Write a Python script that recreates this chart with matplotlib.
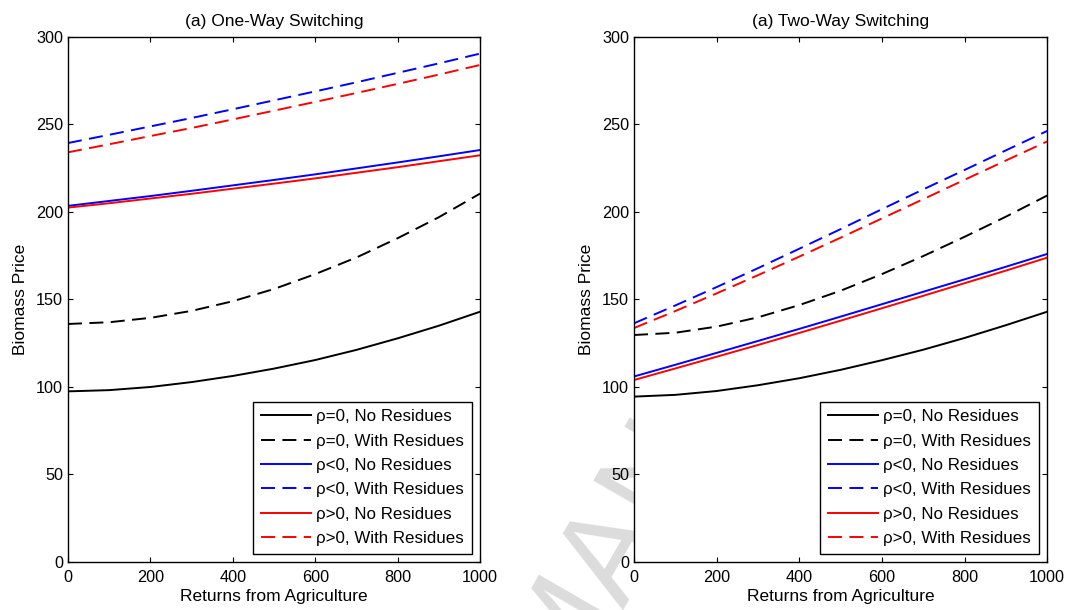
import matplotlib
matplotlib.use('Agg')
import matplotlib.pyplot as plt
from matplotlib.transforms import Bbox, TransformedBbox

plt.rcParams['font.family'] = ['Liberation Sans', 'DejaVu Sans']

# Returns from agriculture (x axis)
returns = [0, 100, 200, 300, 400, 500, 600, 700, 800, 900, 1000]

# One-way switching
ow_zero_nores = [97.5, 98.2, 100.0, 102.8, 106.3, 110.5, 115.4, 121.2, 127.8, 135.0, 143.0]
ow_zero_res = [136.0, 137.0, 139.5, 143.5, 149.0, 156.0, 164.5, 174.0, 185.0, 197.0, 210.5]
ow_neg_nores = [203.5, 206.3, 209.1, 212.1, 215.2, 218.3, 221.5, 224.9, 228.3, 231.8, 235.4]
ow_neg_res = [239.4, 244.1, 248.9, 253.7, 258.7, 263.8, 268.9, 274.1, 279.5, 284.9, 290.5]
ow_pos_nores = [202.5, 205.0, 207.7, 210.4, 213.3, 216.2, 219.2, 222.4, 225.6, 229.0, 232.4]
ow_pos_res = [234.1, 238.7, 243.4, 248.0, 252.9, 257.9, 262.9, 268.0, 273.2, 278.5, 284.0]

# Two-way switching
tw_zero_nores = [94.5, 95.5, 97.7, 101.0, 105.0, 109.8, 115.3, 121.3, 128.0, 135.3, 143.0]
tw_zero_res = [129.7, 131.0, 134.5, 139.8, 146.8, 155.0, 164.5, 174.8, 185.8, 197.3, 209.4]
tw_neg_nores = [106.0, 112.7, 119.5, 126.3, 133.2, 140.2, 147.3, 154.4, 161.5, 168.7, 176.0]
tw_neg_res = [136.4, 146.6, 157.1, 167.9, 179.0, 190.2, 201.6, 212.9, 224.0, 235.2, 246.3]
tw_pos_nores = [104.0, 110.6, 117.3, 124.0, 130.9, 137.9, 145.0, 152.1, 159.3, 166.5, 173.9]
tw_pos_res = [133.7, 143.4, 153.5, 163.9, 174.5, 185.3, 196.3, 207.3, 218.4, 229.4, 240.3]

labels = ['ρ=0, No Residues', 'ρ=0, With Residues',
          'ρ<0, No Residues', 'ρ<0, With Residues',
          'ρ>0, No Residues', 'ρ>0, With Residues']
titles = ['(a) One-Way Switching', '(a) Two-Way Switching']

dash = (0, (7.2, 3.8))
styles = [('k', '-'), ('k', dash), ('b', '-'), ('b', dash), ('r', '-'), ('r', dash)]

fig = plt.figure(figsize=(10.9, 6.1), dpi=100)
ax1 = fig.add_axes([0.0624, 0.0787, 0.378, 0.8607])
ax2 = fig.add_axes([0.5817, 0.0787, 0.379, 0.8607])

panels = [
    (ax1, [ow_zero_nores, ow_zero_res, ow_neg_nores, ow_neg_res, ow_pos_nores, ow_pos_res]),
    (ax2, [tw_zero_nores, tw_zero_res, tw_neg_nores, tw_neg_res, tw_pos_nores, tw_pos_res]),
]

for i, (ax, series) in enumerate(panels):
    for vals, (c, ls), lab in zip(series, styles, labels):
        ax.plot(returns, vals, color=c, linestyle=ls, linewidth=1.4, label=lab)
    ax.set_xlim(0, 1000)
    ax.set_ylim(0, 300)
    ax.set_xticks([0, 200, 400, 600, 800, 1000])
    ax.set_yticks([0, 50, 100, 150, 200, 250, 300])
    ax.tick_params(direction='in', top=True, right=True, length=3.6, width=0.8,
                   labelsize=11.7)
    ax.tick_params(axis='x', pad=6)
    ax.tick_params(axis='y', pad=3.5)
    for sp in ax.spines.values():
        sp.set_linewidth(1.0)
    ax.set_xlabel('Returns from Agriculture', fontsize=12.5, labelpad=3)
    ax.set_ylabel('Biomass Price', fontsize=12.5, labelpad=6)
    ax.set_title(titles[i], fontsize=12.5, pad=8)
    leg = ax.legend(loc='lower right', fontsize=12.2, fancybox=False, framealpha=1,
                    edgecolor='k', handlelength=2.95, handletextpad=0.3,
                    labelspacing=0.55, borderaxespad=0.5, borderpad=0.45)
    leg.get_frame().set_linewidth(1.0)

# faint watermark, kept behind the axes and to the lower part of the page
wm = fig.text(0.18, -1.215, 'ACCEPTED MANUSCRIPT', fontsize=94, color='#dcdcdc',
              rotation=60, rotation_mode='anchor', ha='left', va='baseline', zorder=-1)
wm.set_clip_box(TransformedBbox(Bbox([[0, 0], [1, 0.5]]), fig.transFigure))
wm.set_clip_on(True)

fig.savefig('out.png', dpi=100)
